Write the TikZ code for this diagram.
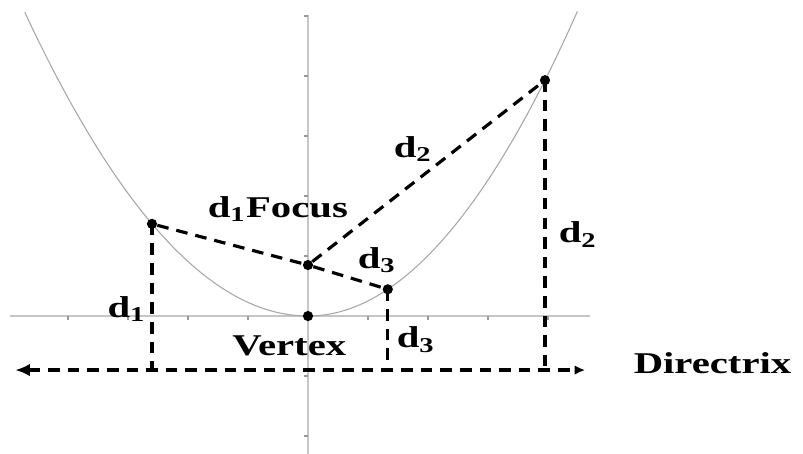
\documentclass[tikz,border=0pt]{standalone}
\usepackage{fontspec}
\setmainfont{Liberation Serif}
\usetikzlibrary{arrows.meta}
\newcommand{\lblfont}{\fontsize{14.3}{17}\selectfont\bfseries}

\begin{document}
\begin{tikzpicture}[
    axisline/.style={gray!45, line width=1pt},
    curve/.style={gray!70, line width=0.5pt},
    dline/.style={black, line width=1.5pt, dash pattern=on 5.5pt off 3.8pt},
    dot/.style={circle, fill=black, inner sep=0pt, minimum size=0.17cm},
    lbl/.style={font=\lblfont, inner sep=0pt, anchor=base west, xscale=1.35}
  ]
  \useasboundingbox (-5.133,-2.283) rectangle (8.25,5.267);

  % 座標軸
  \draw[axisline] (-4.97,0) -- (4.7,0);
  \draw[axisline] (0,5.02) -- (0,-2.3);
  \foreach \x in {-4,-3,-2,-1,1,2,3,4} {
    \draw[gray!80, line width=0.8pt] (\x,0) -- (\x,-0.07);
  }
  \foreach \y in {-2,-1,1,2,3,4,5} {
    \draw[gray!80, line width=0.8pt] (0,\y) -- (-0.07,\y);
  }

  % 放物線
  \draw[curve, domain=-4.72:0, samples=60] plot (\x,{\x*\x/4.4});
  \draw[curve, domain=0:4.49, samples=60] plot (\x,{\x*\x/3.97});

  % 点
  \node[dot] (vertex) at (0,0) {};
  \node[dot] (focus) at (0,0.85) {};
  \node[dot] (p1) at (-2.6,{2.6*2.6/4.4}) {};
  \node[dot] (p2) at (3.95,{3.95*3.95/3.97}) {};
  \node[dot] (p3) at (1.33,{1.33*1.33/3.97}) {};

  % 準線
  \coordinate (dirL) at (-4.88,-0.9);
  \coordinate (dirR) at (4.62,-0.9);
  \draw[dline, {Latex[length=7pt,width=6pt]}-{Latex[length=5pt,width=4.5pt]}] (dirL) -- (dirR);

  % 焦点までの距離
  \draw[dline] (p1) -- (focus);
  \draw[dline] (focus) -- (p2);
  \draw[dline] (focus) -- (p3);

  % 準線までの距離
  \draw[dline] (p1.center) -- (p1.center |- dirL);
  \draw[dline] (p2.center) -- (p2.center |- dirL);
  \draw[dline] (p3.center) -- (p3.center |- dirL);

  % ラベル
  \node[lbl] (lblfocus) at (-1.68,1.65) {d\textsubscript{1}Focus};
  \node[lbl] (lbldtwoa) at (1.42,2.65) {d\textsubscript{2}};
  \node[lbl] (lbldtwob) at (4.17,1.22) {d\textsubscript{2}};
  \node[lbl] (lbldthreea) at (0.82,0.8) {d\textsubscript{3}};
  \node[lbl] (lbldthreeb) at (1.47,-0.53) {d\textsubscript{3}};
  \node[lbl] (lbldone) at (-3.35,-0.02) {d\textsubscript{1}};
  \node[lbl] (lblvertex) at (-1.27,-0.65) {Vertex};
  \node[lbl] (lbldirectrix) at (5.42,-0.95) {Directrix};
\end{tikzpicture}
\end{document}
